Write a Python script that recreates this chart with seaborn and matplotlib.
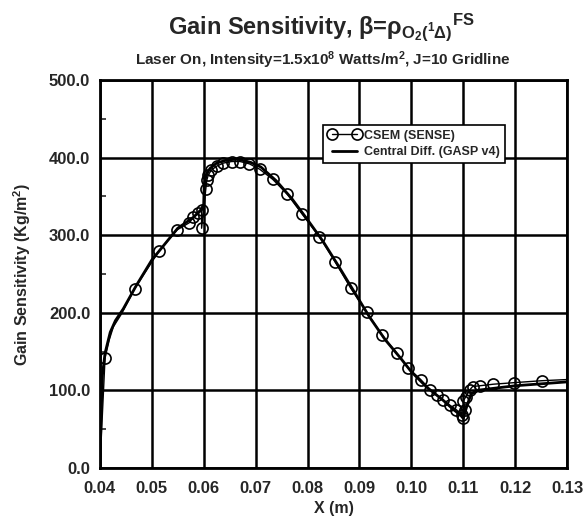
import numpy as np
import pandas as pd
import matplotlib
matplotlib.use("Agg")
import matplotlib.pyplot as plt
import seaborn as sns

# ==========================
# DATA
# ==========================
csem_x = [0.0400, 0.0410, 0.0418, 0.0426, 0.0442, 0.0467, 0.0514, 0.0549,
          0.0572, 0.0580, 0.0590, 0.0596, 0.0596, 0.0604, 0.0606, 0.0609,
          0.0615, 0.0625, 0.0638, 0.0654, 0.0670, 0.0688, 0.0708, 0.0733,
          0.0761, 0.0790, 0.0823, 0.0853, 0.0883, 0.0914, 0.0943, 0.0972,
          0.0994, 0.1018, 0.1036, 0.1049, 0.1061, 0.1074, 0.1087, 0.1097,
          0.1100, 0.1103, 0.1100, 0.1105, 0.1113, 0.1118, 0.1132, 0.1158,
          0.1198, 0.1251, 0.1300]
csem_y = [0, 142, 165, 182, 199, 231, 280, 307,
          316, 323, 328, 332, 309, 359, 371, 378,
          384, 389, 393, 395, 395, 392, 385, 372,
          353, 327, 298, 266, 232, 201, 172, 148,
          129, 114, 101, 94, 88, 81, 75, 68,
          64, 75, 86, 92, 101, 105, 106, 108,
          110, 112.5, 114]
# points drawn with a circle (the rest are line-only)
csem_marked = [1, 5, 6, 7, 8, 9, 10, 11, 12, 13, 14, 15, 16, 17, 18, 19,
               20, 21, 22, 23, 24, 25, 26, 27, 28, 29, 30, 31, 32, 33, 34,
               35, 36, 37, 38, 39, 40, 41, 42, 43, 44, 45, 46, 47, 48, 49]

cd_x = [0.0400, 0.0402, 0.0405, 0.0410, 0.0420, 0.0430, 0.0445, 0.0470,
        0.0500, 0.0550, 0.0580, 0.0595, 0.0600, 0.0601, 0.0605, 0.0612,
        0.0625, 0.0645, 0.0665, 0.0690, 0.0710, 0.0740, 0.0770, 0.0800,
        0.0830, 0.0860, 0.0890, 0.0920, 0.0950, 0.0980, 0.1000, 0.1030,
        0.1060, 0.1080, 0.1095, 0.1100, 0.1108, 0.1115, 0.1125, 0.1200,
        0.1300]
cd_y = [0, 60, 120, 148, 175, 190, 205, 235,
        268, 309, 323, 333, 340, 365, 378, 386,
        393, 397, 398, 394, 388, 370, 347, 320,
        292, 260, 227, 194, 165, 141, 124, 104,
        88, 76, 68, 64, 82, 95, 100, 106,
        111]

x_ticks = [0.04, 0.05, 0.06, 0.07, 0.08, 0.09, 0.10, 0.11, 0.12, 0.13]
y_ticks = [0, 100, 200, 300, 400, 500]

csem_df = pd.DataFrame({"x": csem_x, "y": csem_y})
cd_df = pd.DataFrame({"x": cd_x, "y": cd_y})

# ==========================
# STYLE
# ==========================
sns.set_style("ticks")
plt.rcParams["font.family"] = ["Liberation Sans", "DejaVu Sans"]
plt.rcParams["font.weight"] = "bold"
plt.rcParams["mathtext.fontset"] = "custom"
plt.rcParams["mathtext.rm"] = "Liberation Sans:bold"
plt.rcParams["mathtext.it"] = "Liberation Sans:bold"
plt.rcParams["mathtext.bf"] = "Liberation Sans:bold"

fig = plt.figure(figsize=(5.84, 5.18), dpi=100)
ax = fig.add_axes([0.171, 0.0965, 0.800, 0.749])

# ==========================
# PLOT
# ==========================
sns.lineplot(
    data=csem_df, x="x", y="y", ax=ax,
    estimator=None, sort=False,
    color="black", linewidth=1.0,
    marker="o", markersize=8, markerfacecolor="none",
    markeredgecolor="black", markeredgewidth=1.2,
    markevery=csem_marked,
    label="CSEM (SENSE)", zorder=4,
)
sns.lineplot(
    data=cd_df, x="x", y="y", ax=ax,
    estimator=None, sort=False,
    color="black", linewidth=2.0,
    label="Central Diff. (GASP v4)", zorder=3,
)

ax.set_xlim(0.04, 0.13)
ax.set_ylim(0, 500)
ax.set_xticks(x_ticks)
ax.set_xticklabels([f"{v:.2f}" for v in x_ticks])
ax.set_yticks(y_ticks)
ax.set_yticklabels([f"{v:.1f}" for v in y_ticks])
ax.set_yticks(np.arange(50, 500, 100), minor=True)
ax.tick_params(axis="both", which="major", labelsize=12, length=0, pad=7)
ax.tick_params(axis="x", which="major", pad=9)
ax.tick_params(axis="y", which="minor", direction="in", length=4, width=1.2)

ax.grid(True, which="major", color="black", linewidth=1.8)
for sp in ax.spines.values():
    sp.set_linewidth(2.0)
    sp.set_color("black")

ax.set_xlabel("X (m)", fontsize=11.5, fontweight="bold", labelpad=4)
ax.set_ylabel("Gain Sensitivity (Kg/m$^2$)", fontsize=11.5, fontweight="bold")
ax.yaxis.set_label_coords(-0.143, 0.5)

fig.text(0.55, 0.935,
         r"Gain Sensitivity, β=ρ$_{\mathrm{O_2(^{1}\Delta)}}$$^{\mathrm{FS}}$",
         ha="center", va="baseline", fontsize=17, fontweight="bold")
fig.text(0.552, 0.875,
         r"Laser On, Intensity=1.5x10$^{8}$ Watts/m$^{2}$, J=10 Gridline",
         ha="center", va="baseline", fontsize=11, fontweight="bold")

leg = ax.legend(loc="upper left", bbox_to_anchor=(0.478, 0.885),
                fontsize=9, frameon=True, fancybox=False, numpoints=2,
                handlelength=2.6, borderpad=0.4, labelspacing=0.35,
                handletextpad=0.3, borderaxespad=0)
leg.get_frame().set_edgecolor("black")
leg.get_frame().set_linewidth(1.2)
leg.get_frame().set_alpha(1)
for txt in leg.get_texts():
    txt.set_fontweight("bold")

fig.savefig("out.png", dpi=100)
